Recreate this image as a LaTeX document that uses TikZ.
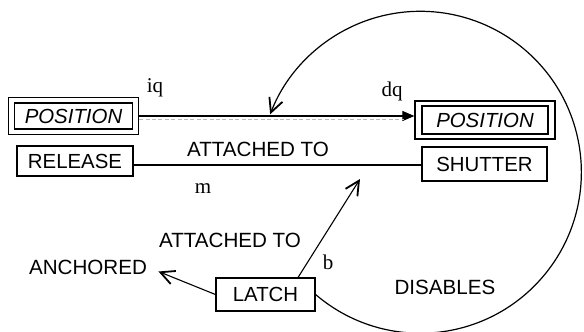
\documentclass[tikz,border=0pt]{standalone}
\usepackage{fontspec}
\setmainfont{Liberation Sans}
\newfontfamily\letterfont{Liberation Serif}
\usetikzlibrary{arrows.meta,calc}

\begin{document}
\begin{tikzpicture}[x=0.5pt,y=0.5pt,
  lbl/.style={font=\fontsize{10.3}{12}\selectfont, inner sep=0pt},
  letter/.style={font=\letterfont\fontsize{10.5}{12}\selectfont, inner sep=0pt, anchor=base},
  box/.style={draw, line width=0.6pt, inner sep=0pt, font=\fontsize{10.2}{12}\selectfont},
  conn/.style={line width=0.55pt},
  barb/.style={-{Straight Barb[length=7pt,width=7pt,line width=0.9pt]}}]

\useasboundingbox (0,0) rectangle (584,332);

% framed value nodes
\node[box, minimum width=65pt, minimum height=18.5pt] (posLout) at (73.5,216) {};
\node[box, minimum width=59pt, minimum height=13pt, font=\fontsize{10.2}{12}\selectfont\itshape] (posL) at (73.5,216) {POSITION};
\node[box, minimum width=70pt, minimum height=19pt] (posRout) at (485,212) {};
\node[box, minimum width=63pt, minimum height=14pt, font=\fontsize{10.2}{12}\selectfont\itshape] (posR) at (485,212) {POSITION};

% object nodes
\node[box, minimum width=58pt, minimum height=15pt] (release) at (75,171) {RELEASE};
\node[box, minimum width=62.5pt, minimum height=17pt] (shutter) at (484.5,168) {SHUTTER};
\node[box, minimum width=49.5pt, minimum height=16.5pt] (latch) at (265.5,37.5) {LATCH};

% labels
\node[letter] (iq) at (155,239) {iq};
\node[letter] (dq) at (392,235) {dq};
\node[lbl] (att1) at (258,183) {ATTACHED TO};
\node[letter] (m) at (203,138) {m};
\node[lbl] (att2) at (230,92) {ATTACHED TO};
\node[letter] (b) at (328,62) {b};
\node[lbl] (anch) at (88,65) {ANCHORED};
\node[lbl] (dis) at (445,45) {DISABLES};

% free end
\coordinate (hitTop) at (360,153);

% position -> position
\draw[conn, -{Triangle[length=6pt,width=5pt]}] (posLout.east) -- (posLout.east -| posRout.west);
\draw[gray!55, line width=0.4pt, dash pattern=on 2pt off 1.2pt, shorten >=5pt]
  ([yshift=-1.6pt]posLout.east) -- ([yshift=-1.6pt]posLout.east -| posRout.west);

% release attached to shutter
\draw[conn] ([yshift=-2pt]release.east) -- ([yshift=-2pt]release.east -| shutter.west);

% latch relations
\draw[conn, barb] ($(latch.north)!0.65!(latch.north east)$) -- (hitTop);
\draw[conn, barb, shorten >=6pt] (latch.west) -- (anch.east);
\draw[line width=0.6pt, barb] (latch.east) arc[start angle=229.4, end angle=518.9, radius=161];

\end{tikzpicture}
\end{document}
